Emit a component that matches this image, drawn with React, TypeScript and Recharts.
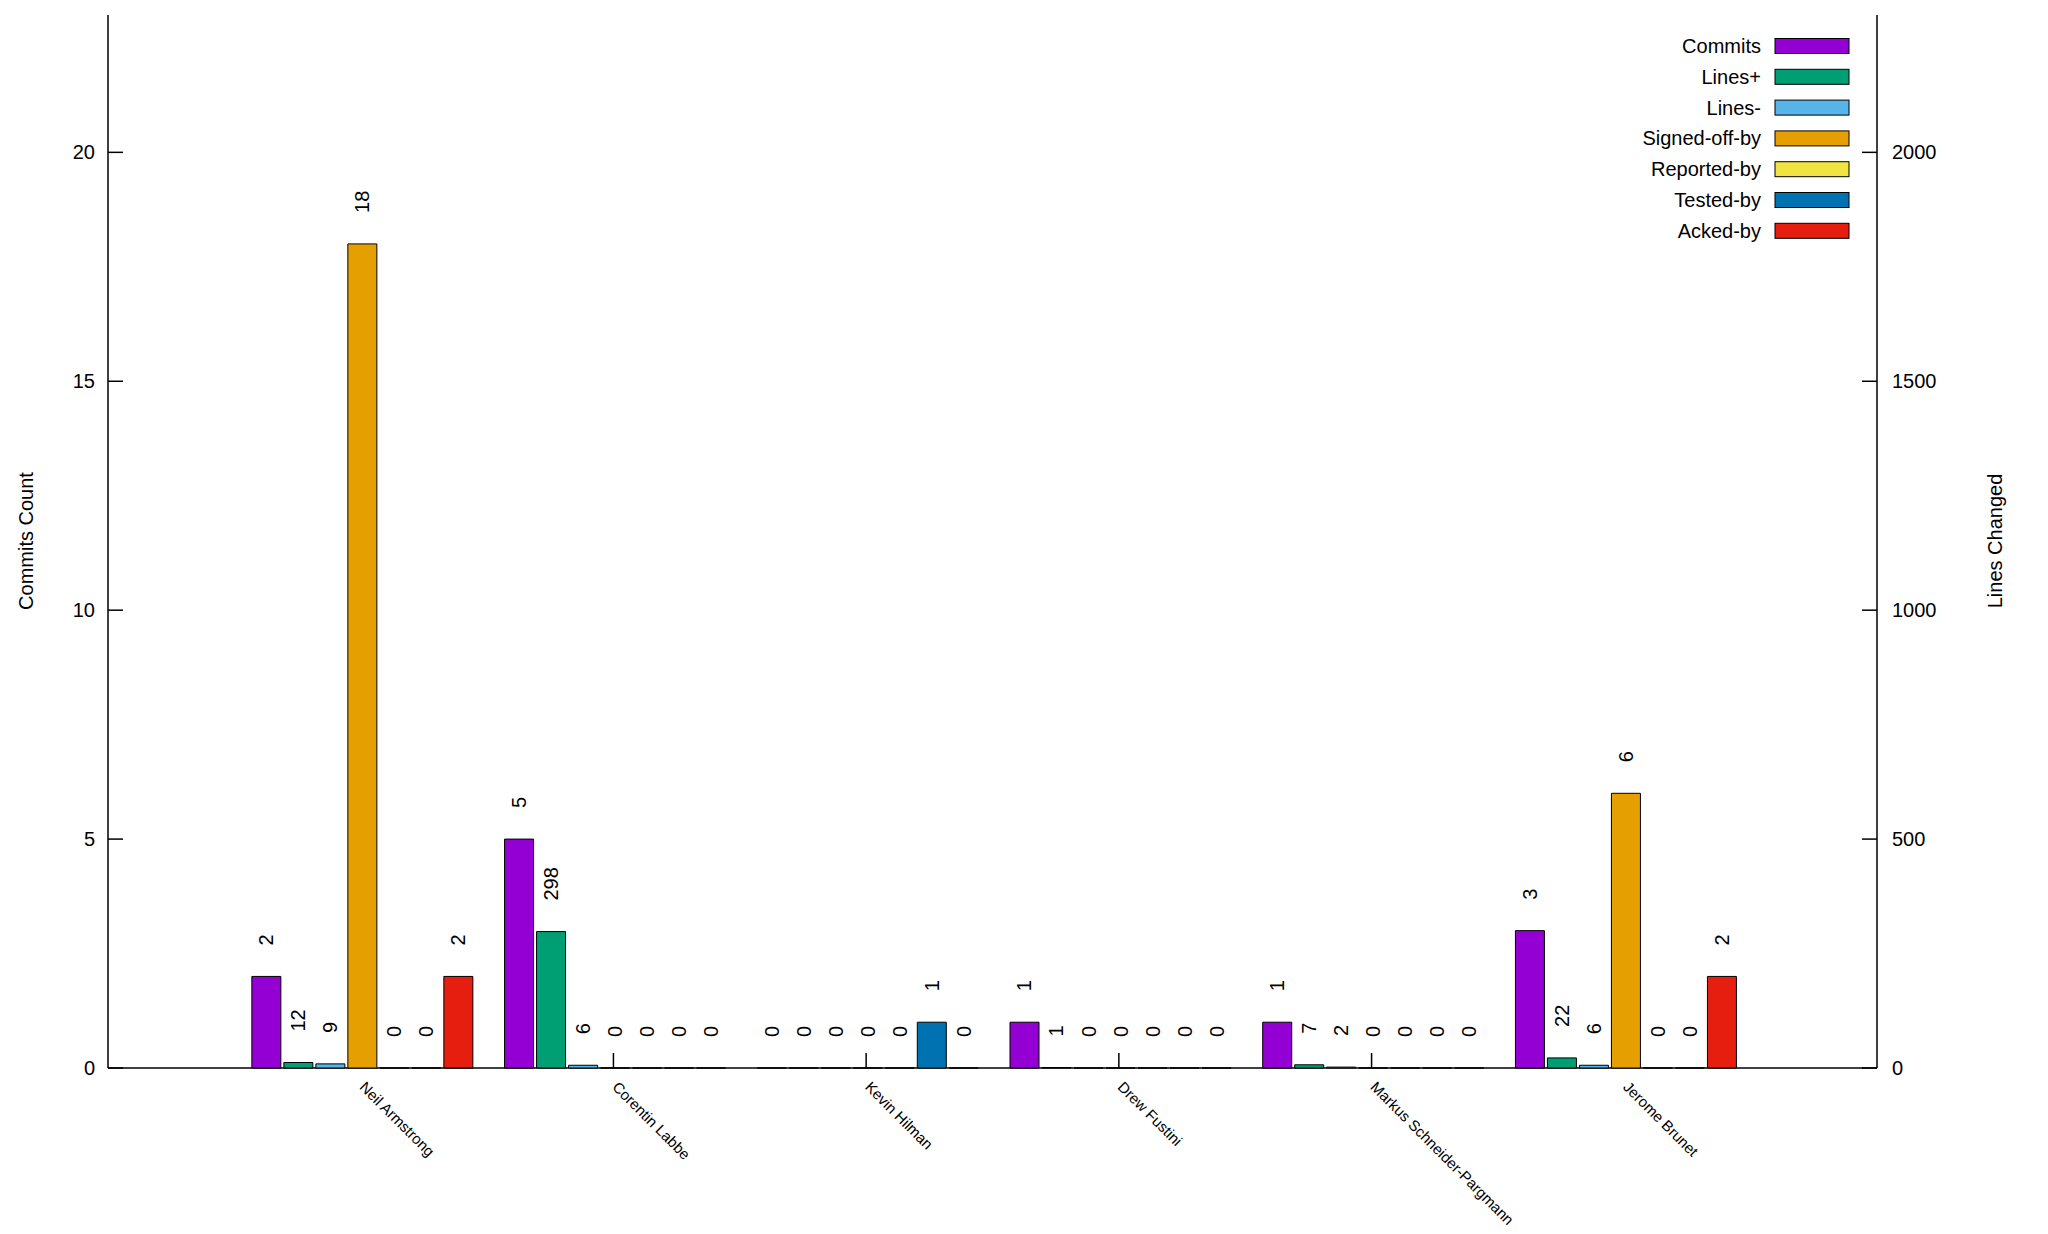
import { BarChart, Bar, XAxis, YAxis, LabelList, Customized } from 'recharts'

const AUTHORS = [
  'Neil Armstrong',
  'Corentin Labbe',
  'Kevin Hilman',
  'Drew Fustini',
  'Markus Schneider-Pargmann',
  'Jerome Brunet',
]
const COMMITS = [2, 5, 0, 1, 1, 3]
const LINES_ADDED = [12, 298, 0, 1, 7, 22]
const LINES_REMOVED = [9, 6, 0, 0, 2, 6]
const SIGNED_OFF = [18, 0, 0, 0, 0, 6]
const REPORTED = [0, 0, 0, 0, 0, 0]
const TESTED = [0, 0, 1, 0, 0, 0]
const ACKED = [2, 0, 0, 0, 0, 2]

const LEFT_TICKS = [0, 5, 10, 15, 20]
const RIGHT_TICKS = [0, 500, 1000, 1500, 2000]

const SERIES = [
  { key: 'commits', name: 'Commits', color: '#9400d3', axis: 'count', values: COMMITS },
  { key: 'linesAdded', name: 'Lines+', color: '#009e73', axis: 'lines', values: LINES_ADDED },
  { key: 'linesRemoved', name: 'Lines-', color: '#56b4e9', axis: 'lines', values: LINES_REMOVED },
  { key: 'signedOff', name: 'Signed-off-by', color: '#e69f00', axis: 'count', values: SIGNED_OFF },
  { key: 'reported', name: 'Reported-by', color: '#f0e442', axis: 'count', values: REPORTED },
  { key: 'tested', name: 'Tested-by', color: '#0072b2', axis: 'count', values: TESTED },
  { key: 'acked', name: 'Acked-by', color: '#e51e10', axis: 'count', values: ACKED },
]

const data = AUTHORS.map((name, i) => {
  const row: Record<string, string | number> = { name }
  SERIES.forEach(s => { row[s.key] = s.values[i] })
  return row
})

const FONT = '"Liberation Sans", Arial, sans-serif'

function ValueLabel(props: any) {
  const { x, y, width, height, value } = props
  const cx = Number(x) + Number(width) / 2
  // zero bars carry a tiny min height, measure from their base
  const top = Number(height) < 0.01 ? Number(y) + Number(height) : Number(y)
  const ty = top - 31
  return (
    <text
      x={cx}
      y={ty}
      transform={`rotate(-90, ${cx}, ${ty})`}
      textAnchor="start"
      dominantBaseline="central"
      fontSize={20}
      fontFamily={FONT}
      fill="#000"
    >
      {value}
    </text>
  )
}

function AuthorTick(props: any) {
  const { x, y, payload } = props
  const px = Number(x) - 2
  const py = Number(y)
  return (
    <text
      x={px}
      y={py}
      transform={`rotate(45, ${px}, ${py})`}
      textAnchor="start"
      fontSize={15}
      fontFamily={FONT}
      fill="#000"
    >
      {payload.value}
    </text>
  )
}

function AxisTitle({ px, py, text }: any) {
  return (
    <text
      x={px}
      y={py}
      transform={`rotate(-90, ${px}, ${py})`}
      textAnchor="middle"
      dominantBaseline="central"
      fontSize={20}
      fontFamily={FONT}
      fill="#000"
    >
      {text}
    </text>
  )
}

function KeyBox() {
  return (
    <g>
      {SERIES.map((s, i) => {
        const cy = 46 + i * 30.8
        return (
          <g key={s.key}>
            <text x={1761} y={cy} textAnchor="end" dominantBaseline="central"
              fontSize={20} fontFamily={FONT} fill="#000">
              {s.name}
            </text>
            <rect x={1775} y={cy - 7.5} width={74} height={15} fill={s.color}
              stroke="#000" strokeWidth={1} />
          </g>
        )
      })}
    </g>
  )
}

export default function App() {
  const tickStyle = { fill: '#000', fontSize: 20, fontFamily: FONT }
  const axisLine = { stroke: '#000', strokeWidth: 1.5 }
  return (
    <div style={{ position: 'absolute', left: 0, top: 0, background: '#fff' }}>
      <BarChart
        width={2048}
        height={1234}
        data={data}
        margin={{ top: 15, right: 0, bottom: 0, left: 0 }}
        barCategoryGap={17.5}
        barGap={3}
      >
        <XAxis
          dataKey="name"
          height={166}
          interval={0}
          padding={{ left: 126.35, right: 126.35 }}
          axisLine={axisLine}
          tickLine={{ stroke: '#000', strokeWidth: 1.5 }}
          tickSize={-15}
          tickMargin={35}
          tick={<AuthorTick />}
          zIndex={250}
        />
        <XAxis
          xAxisId="top"
          dataKey="name"
          orientation="top"
          height={0}
          tick={false}
          tickLine={false}
          axisLine={axisLine}
        />
        <YAxis
          yAxisId="count"
          width={108}
          domain={[0, 23]}
          ticks={LEFT_TICKS}
          interval={0}
          axisLine={axisLine}
          tickLine={{ stroke: '#000', strokeWidth: 1.5 }}
          tickSize={-15}
          tickMargin={28}
          tick={tickStyle}
          label={<AxisTitle px={26} py={541} text="Commits Count" />}
        />
        <YAxis
          yAxisId="lines"
          orientation="right"
          width={171}
          domain={[0, 2300]}
          ticks={RIGHT_TICKS}
          interval={0}
          axisLine={axisLine}
          tickLine={{ stroke: '#000', strokeWidth: 1.5 }}
          tickSize={-15}
          tickMargin={30}
          tick={tickStyle}
          label={<AxisTitle px={1995} py={541} text="Lines Changed" />}
        />
        {SERIES.map(s => (
          <Bar
            key={s.key}
            dataKey={s.key}
            name={s.name}
            yAxisId={s.axis}
            fill={s.color}
            stroke="#000"
            strokeWidth={1}
            minPointSize={0.001}
            isAnimationActive={false}
          >
            <LabelList
              valueAccessor={(entry: any) => String(entry?.payload?.[s.key] ?? 0)}
              content={<ValueLabel />}
            />
          </Bar>
        ))}
        <Customized component={<KeyBox />} />
      </BarChart>
    </div>
  )
}
